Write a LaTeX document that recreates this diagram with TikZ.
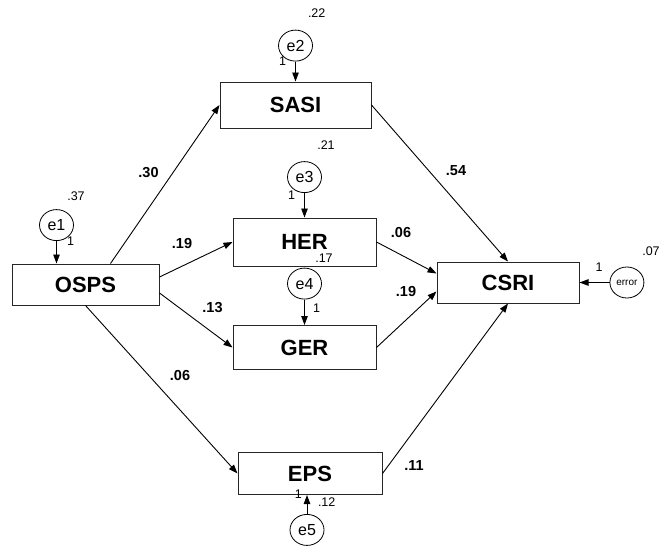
\documentclass[tikz,border=0pt]{standalone}
\usepackage{fontspec}
\setmainfont{Liberation Sans}
\usepackage{tikz}
\usetikzlibrary{positioning,calc,arrows.meta,shapes.geometric}
\tikzset{
  obsbox/.style={draw=black!85, line width=1pt, inner sep=0pt,
    minimum width=145pt, minimum height=45pt,
    font=\fontsize{22}{24}\selectfont\bfseries},
  errnode/.style={draw, ellipse, line width=0.8pt, inner sep=0pt,
    minimum width=34pt, minimum height=31pt,
    font=\fontsize{16}{17}\selectfont},
  patharrow/.style={-{Triangle[length=9pt,width=6.5pt]}, line width=0.9pt},
  pathlabel/.style={inner sep=0pt, font=\fontsize{14.5}{16}\selectfont\bfseries},
  varlabel/.style={inner sep=0pt, font=\fontsize{12.5}{14}\selectfont},
}

\begin{document}
\begin{tikzpicture}[x=1pt, y=-1pt]
  \useasboundingbox (0,0) rectangle (661,546);

  % Observed variables
  \node[obsbox, minimum width=147pt, minimum height=41pt] (osps) at (85.5,284.5) {OSPS};
  \node[obsbox, minimum width=151pt, minimum height=46pt] (sasi) at (295.5,105) {SASI};
  \node[obsbox, minimum width=143pt, minimum height=48pt] (her) at (304.5,242) {HER};
  \node[obsbox, minimum width=143pt, minimum height=44pt] (ger) at (304.5,347.5) {GER};
  \node[obsbox, minimum width=142pt, minimum height=41pt] (csri) at (508,282.5) {CSRI};
  \node[obsbox, minimum width=144pt, minimum height=42pt] (eps) at (310,473.5) {EPS};

  % Error terms
  \node[errnode, above=22.5pt of osps.north, xshift=-29pt] (e1) {e1};
  \node[errnode, above=20pt of sasi] (e2) {e2};
  \node[errnode, above=24.5pt of her] (e3) {e3};
  \node[errnode, above=25.5pt of ger] (e4) {e4};
  \node[errnode, below=19pt of eps, xshift=-3pt] (e5) {e5};
  \node[errnode, right=30pt of csri, font=\fontsize{10}{11}\selectfont] (err) {error};

  % Paths
  \draw[patharrow] ([xshift=25pt]osps.north) -- (sasi.west);
  \draw[patharrow] ([yshift=7.5pt]osps.east) -- (her.west);
  \draw[patharrow] ([yshift=-8.5pt]osps.east) -- (ger.west);
  \draw[patharrow] (osps.south) -- (eps.west);
  \draw[patharrow] (sasi.east) -- (csri.north);
  \draw[patharrow] (her.east) -- ([yshift=9pt]csri.west);
  \draw[patharrow] (ger.east) -- ([yshift=-9pt]csri.west);
  \draw[patharrow] (eps.east) -- (csri.south);

  % Error arrows
  \draw[patharrow] (e1) -- (e1 |- osps.north);
  \draw[patharrow] (e2) -- (e2 |- sasi.north);
  \draw[patharrow] (e3) -- (e3 |- her.north);
  \draw[patharrow] (e4) -- (e4 |- ger.north);
  \draw[patharrow] (e5) -- (e5 |- eps.south);
  \draw[patharrow] (err) -- (err -| csri.east);

  % Path coefficients
  \node[pathlabel] (c30) at (148.5,173) {.30};
  \node[pathlabel] (c19a) at (182,244) {.19};
  \node[pathlabel] (c13) at (212.5,307.5) {.13};
  \node[pathlabel] (c06a) at (180,376) {.06};
  \node[pathlabel] (c54) at (456,171) {.54};
  \node[pathlabel] (c06b) at (401,232.5) {.06};
  \node[pathlabel] (c19b) at (406,292) {.19};
  \node[pathlabel] (c11) at (414,466) {.11};

  % Variances and fixed loadings
  \node[varlabel] (v1) at (76,196) {.37};
  \node[varlabel] (w1) at (70.5,241) {1};
  \node[varlabel] (v2) at (316.7,13) {.22};
  \node[varlabel] (w2) at (282.5,61) {1};
  \node[varlabel] (v3) at (326,145) {.21};
  \node[varlabel] (w3) at (291.7,195) {1};
  \node[varlabel] (v4) at (324,258.3) {.17};
  \node[varlabel] (w4) at (316.5,308) {1};
  \node[varlabel] (v5) at (326.7,501.7) {.12};
  \node[varlabel] (w5) at (298.3,494.5) {1};
  \node[varlabel] (v6) at (651,251) {.07};
  \node[varlabel] (w6) at (599,267.5) {1};
\end{tikzpicture}
\end{document}
